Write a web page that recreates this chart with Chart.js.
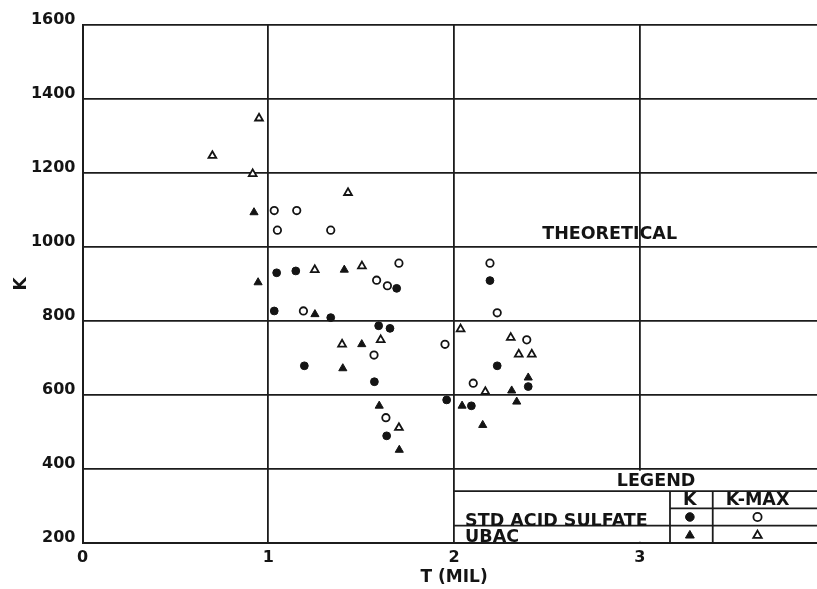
<!DOCTYPE html>
<html>
<head>
<meta charset="utf-8">
<script src="https://cdn.jsdelivr.net/npm/chart.js@4.4.1/dist/chart.umd.min.js"></script>
<style>
  html, body { margin: 0; padding: 0; background: #fff; overflow: hidden; }
  #wrap { width: 845px; height: 589px; }
</style>
</head>
<body>
<div id="wrap"><canvas id="c" width="845" height="589"></canvas></div>
<script>
// Axis ticks
const xTickValues = [0, 1, 2, 3, 4];
const xTickLabels = ['0', '1', '2', '3', '4'];
const yTickValues = [200, 400, 600, 800, 1000, 1200, 1400, 1600];
const yTickLabels = ['200', '400', '600', '800', '1000', '1200', '1400', '1600'];

// STD ACID SULFATE, K
const stdK_T = [1.045, 1.148, 1.691, 1.032, 1.336, 1.594, 1.655, 1.194, 1.571, 1.637, 1.960, 2.193, 2.232, 2.399, 2.093];
const stdK_K = [930, 935, 888, 827, 809, 787, 780, 679, 636, 490, 587, 909, 679, 623, 571];

// STD ACID SULFATE, K-MAX
const stdKmax_T = [1.032, 1.153, 1.049, 1.336, 1.703, 1.583, 1.641, 1.189, 1.569, 1.633, 1.951, 2.193, 2.232, 2.391, 2.103];
const stdKmax_K = [1098, 1098, 1045, 1045, 956, 910, 895, 827, 708, 539, 737, 956, 822, 749, 632];

// UBAC, K
const ubacK_T = [0.923, 0.945, 1.409, 1.251, 1.503, 1.401, 1.597, 1.705, 2.399, 2.310, 2.337, 2.043, 2.154];
const ubacK_K = [1093, 904, 938, 818, 737, 672, 571, 452, 647, 612, 582, 571, 519];

// UBAC, K-MAX
const ubacKmax_T = [0.950, 0.699, 0.916, 1.429, 1.250, 1.504, 1.397, 1.605, 1.703, 2.035, 2.305, 2.348, 2.418, 2.168];
const ubacKmax_K = [1347, 1246, 1197, 1146, 938, 948, 737, 749, 512, 778, 755, 710, 710, 609];

const FONT = '"DejaVu Sans", sans-serif';
const INK = '#141414';
const LINE = '#1c1c1c';

const pts = (ts, ks) => ts.map((t, i) => ({ x: t, y: ks[i] }));

const markers = {
  stdK:     { pointStyle: 'circle',   radius: 3.9, backgroundColor: INK,    borderColor: INK, borderWidth: 1 },
  stdKmax:  { pointStyle: 'circle',   radius: 3.7, backgroundColor: '#fff', borderColor: INK, borderWidth: 1.8 },
  ubacK:    { pointStyle: 'triangle', radius: 4.7, backgroundColor: INK,    borderColor: INK, borderWidth: 1 },
  ubacKmax: { pointStyle: 'triangle', radius: 4.5, backgroundColor: '#fff', borderColor: INK, borderWidth: 1.8 }
};

function ds(label, data, m) {
  return {
    label, data,
    showLine: false,
    pointStyle: m.pointStyle,
    pointRadius: m.radius,
    pointBackgroundColor: m.backgroundColor,
    pointBorderColor: m.borderColor,
    pointBorderWidth: m.borderWidth
  };
}

// Boxed legend table in the lower right, plus the free text label
const legendTable = {
  id: 'legendTable',
  beforeDatasetsDraw(chart) {
    const { ctx, chartArea: a, scales: { x, y } } = chart;
    const x2 = x.getPixelForValue(2);
    const y400 = y.getPixelForValue(400);
    const y200 = y.getPixelForValue(200);
    const yHead = y.getPixelForValue(341);
    const ySub = y.getPixelForValue(294.5);
    const yRow = y.getPixelForValue(247.6);
    const xK = x.getPixelForValue(3.162);
    const xKm = x.getPixelForValue(3.392);

    ctx.save();
    // clear the grid inside the table box
    ctx.fillStyle = '#fff';
    ctx.fillRect(x2 + 1.5, y400 + 1.5, a.right - x2 + 20, y200 - y400 - 3);

    ctx.strokeStyle = LINE;
    ctx.lineWidth = 1.8;
    const line = (x0, y0, x1, y1) => { ctx.beginPath(); ctx.moveTo(x0, y0); ctx.lineTo(x1, y1); ctx.stroke(); };
    line(x2, yHead, a.right + 20, yHead);
    line(xK, ySub, a.right + 20, ySub);
    line(x2, yRow, a.right + 20, yRow);
    line(xK, yHead, xK, y200);
    line(xKm, yHead, xKm, y200);

    ctx.fillStyle = INK;
    ctx.font = 'bold 17.5px ' + FONT;
    ctx.textAlign = 'center';
    ctx.textBaseline = 'middle';
    ctx.fillText('LEGEND', x.getPixelForValue(3.087), (y400 + yHead) / 2 + 1);
    const xKc = (xK + xKm) / 2 - 1.5;
    const xKmc = x.getPixelForValue(3.633);
    ctx.fillText('K', xKc, (yHead + ySub) / 2 + 1);
    ctx.fillText('K-MAX', xKmc, (yHead + ySub) / 2 + 1);

    ctx.textAlign = 'left';
    ctx.textBaseline = 'alphabetic';
    ctx.fillText('STD ACID SULFATE', x2 + 11, yRow);
    ctx.fillText('UBAC', x2 + 11, y200 - 1);

    const r1 = (ySub + yRow) / 2, r2 = (yRow + y200) / 2;
    const drawMarker = (m, px, py) => {
      ctx.fillStyle = m.backgroundColor;
      ctx.strokeStyle = m.borderColor;
      ctx.lineWidth = m.borderWidth;
      Chart.helpers.drawPoint(ctx, { pointStyle: m.pointStyle, radius: m.radius + 0.4, borderWidth: m.borderWidth }, px, py);
    };
    drawMarker(markers.stdK, xKc, r1);
    drawMarker(markers.stdKmax, xKmc, r1);
    drawMarker(markers.ubacK, xKc, r2 + 1);
    drawMarker(markers.ubacKmax, xKmc, r2 + 1);

    // THEORETICAL label
    ctx.fillStyle = INK;
    ctx.textAlign = 'center';
    ctx.textBaseline = 'middle';
    ctx.fillText('THEORETICAL', x.getPixelForValue(2.837), y.getPixelForValue(1034));
    ctx.restore();
  }
};

new Chart(document.getElementById('c'), {
  type: 'scatter',
  data: {
    datasets: [
      ds('STD ACID SULFATE K', pts(stdK_T, stdK_K), markers.stdK),
      ds('STD ACID SULFATE K-MAX', pts(stdKmax_T, stdKmax_K), markers.stdKmax),
      ds('UBAC K', pts(ubacK_T, ubacK_K), markers.ubacK),
      ds('UBAC K-MAX', pts(ubacKmax_T, ubacKmax_K), markers.ubacKmax)
    ]
  },
  options: {
    responsive: false,
    animation: false,
    layout: { padding: { top: 24.5, right: 19.3, bottom: 0, left: 0 } },
    plugins: { legend: { display: false }, tooltip: { enabled: false } },
    scales: {
      x: {
        type: 'linear',
        min: 0, max: 4,
        afterBuildTicks: s => { s.ticks = xTickValues.map(v => ({ value: v })); },
        afterFit: s => { s.height = 45.7; },
        grid: { color: LINE, lineWidth: 1.8, drawTicks: false },
        border: { color: LINE, width: 2 },
        ticks: {
          padding: 5, color: INK, maxRotation: 0, autoSkip: false,
          font: { family: FONT, size: 16, weight: 'bold' },
          callback: (v, i) => xTickLabels[i]
        },
        title: {
          display: true, text: 'T (MIL)', color: INK,
          font: { family: FONT, size: 17, weight: 'bold' },
          padding: { top: 0, bottom: 1.5 }
        }
      },
      y: {
        type: 'linear',
        min: 200, max: 1600,
        afterBuildTicks: s => { s.ticks = yTickValues.map(v => ({ value: v })); },
        afterFit: s => { s.width = 82.5; },
        grid: { color: LINE, lineWidth: 1.8, drawTicks: false },
        border: { color: LINE, width: 2 },
        ticks: {
          padding: 7, labelOffset: -5, color: INK, autoSkip: false,
          font: { family: FONT, size: 16, weight: 'bold' },
          callback: (v, i) => yTickLabels[i]
        },
        title: {
          display: true, text: 'K', color: INK,
          font: { family: FONT, size: 17, weight: 'bold' },
          padding: { top: 11, bottom: 0 }
        }
      }
    }
  },
  plugins: [legendTable]
});
</script>
</body>
</html>
